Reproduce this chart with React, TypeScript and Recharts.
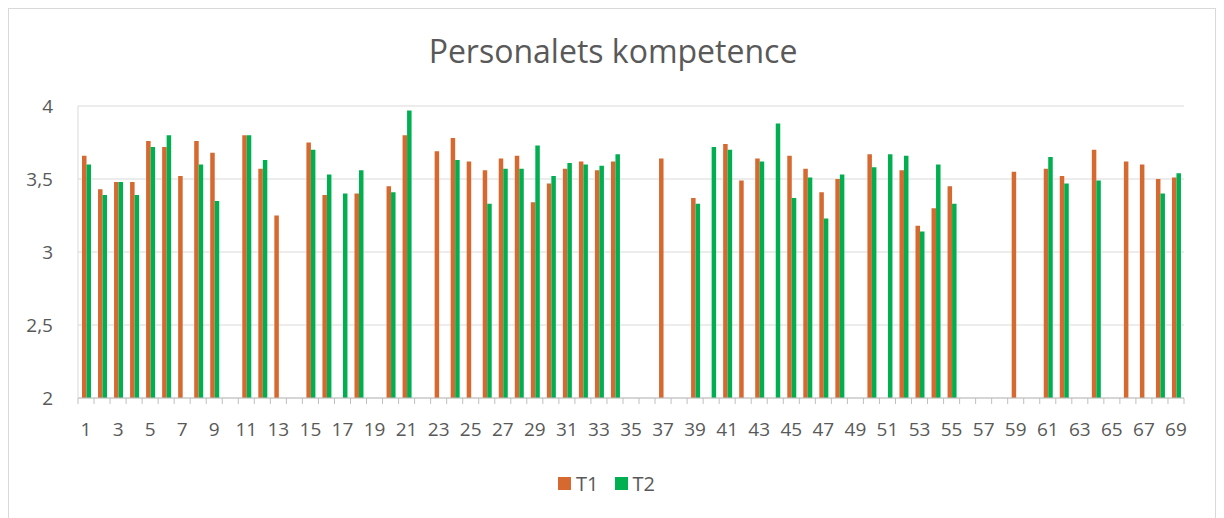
import { Bar, BarChart, CartesianGrid, Legend, XAxis, YAxis } from "recharts";

const categories = [
  "1", "2", "3", "4", "5", "6", "7", "8", "9", "10",
  "11", "12", "13", "14", "15", "16", "17", "18", "19", "20",
  "21", "22", "23", "24", "25", "26", "27", "28", "29", "30",
  "31", "32", "33", "34", "35", "36", "37", "38", "39", "40",
  "41", "42", "43", "44", "45", "46", "47", "48", "49", "50",
  "51", "52", "53", "54", "55", "56", "57", "58", "59", "60",
  "61", "62", "63", "64", "65", "66", "67", "68", "69",
];

const t1Values: (number | null)[] = [
  3.66, 3.43, 3.48, 3.48, 3.76, 3.72, 3.52, 3.76, 3.68, null,
  3.8, 3.57, 3.25, null, 3.75, 3.39, null, 3.4, null, 3.45,
  3.8, null, 3.69, 3.78, 3.62, 3.56, 3.64, 3.66, 3.34, 3.47,
  3.57, 3.62, 3.56, 3.62, null, null, 3.64, null, 3.37, null,
  3.74, 3.49, 3.64, null, 3.66, 3.57, 3.41, 3.5, null, 3.67,
  null, 3.56, 3.18, 3.3, 3.45, null, null, null, 3.55, null,
  3.57, 3.52, null, 3.7, null, 3.62, 3.6, 3.5, 3.51,
];

const t2Values: (number | null)[] = [
  3.6, 3.39, 3.48, 3.39, 3.72, 3.8, null, 3.6, 3.35, null,
  3.8, 3.63, null, null, 3.7, 3.53, 3.4, 3.56, null, 3.41,
  3.97, null, null, 3.63, null, 3.33, 3.57, 3.57, 3.73, 3.52,
  3.61, 3.6, 3.59, 3.67, null, null, null, null, 3.33, 3.72,
  3.7, null, 3.62, 3.88, 3.37, 3.51, 3.23, 3.53, null, 3.58,
  3.67, 3.66, 3.14, 3.6, 3.33, null, null, null, null, null,
  3.65, 3.47, null, 3.49, null, null, null, 3.4, 3.54,
];

const yTicks = [2, 2.5, 3, 3.5, 4];

const data = categories.map((c, i) => ({ cat: c, T1: t1Values[i], T2: t2Values[i] }));

const ORANGE = "#D5692F";
const GREEN = "#00B050";
const TEXT = "#595959";
const GRID = "#D9D9D9";
const FONT = "'Open Sans', sans-serif";

const CHART_W = 1206;
const CHART_H = 509;
const MARGIN = { top: 97, right: 31, bottom: 25, left: 9 };
const BAND = (CHART_W - MARGIN.left - MARGIN.right - 60) / categories.length;

function CategoryTick(props: any) {
  const { x, y, payload, index } = props;
  const half = BAND / 2;
  const last = index === categories.length - 1;
  return (
    <g>
      <line x1={x - half} x2={x - half} y1={y - 6} y2={y} stroke="#BFBFBF" />
      {last && <line x1={x + half} x2={x + half} y1={y - 6} y2={y} stroke="#BFBFBF" />}
      {index % 2 === 0 && (
        <text x={x} y={y + 32} textAnchor="middle" fill={TEXT} fontSize={19} fontFamily={FONT}>
          {payload.value}
        </text>
      )}
    </g>
  );
}

function LegendContent() {
  const item = (color: string, label: string) => (
    <span style={{ display: "inline-flex", alignItems: "center" }}>
      <span style={{ width: 13, height: 13, background: color, display: "inline-block", marginRight: 5 }} />
      {label}
    </span>
  );
  return (
    <div
      style={{
        height: 20,
        display: "flex",
        justifyContent: "center",
        alignItems: "center",
        gap: 16,
        paddingLeft: 11,
        fontSize: 20,
        color: TEXT,
        fontFamily: FONT,
      }}
    >
      {item(ORANGE, "T1")}
      {item(GREEN, "T2")}
    </div>
  );
}

export default function App() {
  return (
    <div
      style={{
        position: "relative",
        width: 1208,
        height: 510,
        boxSizing: "border-box",
        border: `1px solid ${GRID}`,
        borderBottom: "none",
        background: "#fff",
      }}
    >
      <div
        style={{
          position: "absolute",
          top: 22,
          left: 0,
          width: CHART_W,
          paddingLeft: 2,
          boxSizing: "border-box",
          textAlign: "center",
          fontFamily: FONT,
          fontSize: 32,
          lineHeight: "40px",
          color: TEXT,
        }}
      >
        Personalets kompetence
      </div>
      <BarChart
        width={CHART_W}
        height={CHART_H}
        data={data}
        margin={MARGIN}
        barSize={4.5}
        barGap={0}
      >
        <CartesianGrid vertical={false} stroke={GRID} />
        <XAxis
          dataKey="cat"
          interval={0}
          height={75}
          tickLine={false}
          tickSize={6}
          tickMargin={0}
          axisLine={{ stroke: "#BFBFBF" }}
          tick={<CategoryTick />}
        />
        <YAxis
          domain={[2, 4]}
          ticks={yTicks}
          width={60}
          allowDataOverflow
          tickLine={false}
          tickMargin={19}
          axisLine={{ stroke: GRID }}
          tick={{ fill: TEXT, fontSize: 19, fontFamily: FONT }}
          tickFormatter={(v: number) => String(v).replace(".", ",")}
        />
        <Legend verticalAlign="bottom" content={<LegendContent />} />
        <Bar dataKey="T1" fill={ORANGE} isAnimationActive={false} />
        <Bar dataKey="T2" fill={GREEN} isAnimationActive={false} />
      </BarChart>
    </div>
  );
}
